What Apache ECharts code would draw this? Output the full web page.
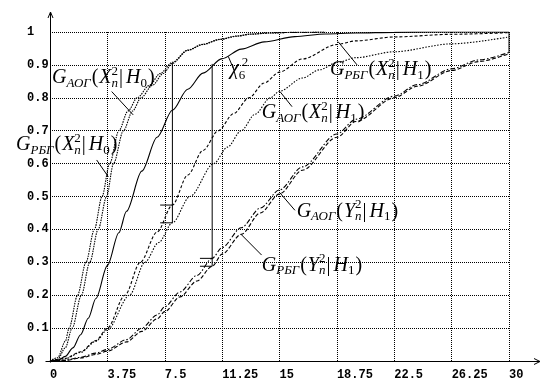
<!DOCTYPE html>
<html><head><meta charset="utf-8">
<script src="https://cdn.jsdelivr.net/npm/echarts@6/dist/echarts.min.js"></script>
<style>html,body{margin:0;padding:0;background:#fff}#c{width:546px;height:386px}</style>
</head><body><div id="c"></div>
<script>
// ---- tick labels ----
const xTickLabels = ['0','3.75','7.5','11.25','15','18.75','22.5','26.25','30'];
const yTickLabels = ['0','0.1','0.2','0.3','0.4','0.5','0.6','0.7','0.8','0.9','1'];

// ---- curves (x, F(x)) ----
const chi2_6 = [[0,0],[0.5,0.002],[1,0.014],[1.5,0.04],[2,0.08],[2.5,0.13],[3,0.19],[3.75,0.29],[4.5,0.39],[5,0.455],[6,0.577],[7,0.68],[8,0.762],[9,0.826],[10,0.875],[11.25,0.919],[12.5,0.948],[14,0.97],[16,0.986],[18,0.994],[20,0.997],[22.5,0.999],[25,1],[30,1]];
const gPBG_X_H0 = [[0,0],[0.5,0.01],[1,0.06],[1.25,0.1],[1.8,0.2],[2.35,0.3],[2.9,0.4],[3.4,0.5],[3.9,0.6],[4.5,0.7],[5.1,0.76],[5.7,0.8],[6.5,0.838],[7.2,0.874],[8,0.908],[9,0.945],[10,0.963],[11.1,0.978],[12.2,0.988],[13.1,0.994],[14.4,0.997],[16,0.999],[18,1]];
const gAOG_X_H0 = [[0,0],[0.5,0.005],[1,0.04],[1.45,0.1],[2.05,0.2],[2.6,0.3],[3.15,0.4],[3.7,0.5],[4.15,0.6],[4.8,0.7],[5.4,0.76],[5.95,0.8],[6.7,0.838],[7.4,0.874],[8,0.905],[9,0.944],[10,0.962],[11.1,0.977],[12.2,0.987],[13.1,0.993],[14.4,0.997],[16,0.999],[18,1]];
const gPBG_X_H1 = [[0,0],[1,0.008],[2,0.028],[3,0.062],[3.75,0.1],[4.9,0.2],[5.9,0.3],[7,0.392],[8,0.474],[9,0.565],[10,0.64],[11,0.7],[12,0.752],[13,0.8],[14,0.845],[15,0.878],[16.5,0.918],[18.75,0.962],[20,0.973],[22.5,0.985],[26.25,0.993],[30,0.998]];
const gAOG_X_H1 = [[0,0],[1,0.007],[2,0.026],[3,0.06],[3.75,0.095],[5.2,0.2],[6.2,0.3],[7.1,0.36],[8,0.42],[9.15,0.5],[10.7,0.6],[11.6,0.65],[12.5,0.7],[13.4,0.75],[14.4,0.8],[15,0.82],[16.5,0.86],[17.6,0.885],[18.75,0.907],[20,0.922],[22.5,0.94],[26.25,0.964],[30,0.985]];
const gAOG_Y_H1 = [[0,0],[1,0.003],[2,0.011],[3,0.024],[3.75,0.035],[5,0.065],[6,0.1],[7,0.14],[7.5,0.165],[8.5,0.21],[9.6,0.26],[10.6,0.312],[11.25,0.345],[12.5,0.405],[13.75,0.465],[15,0.52],[16.5,0.59],[18.75,0.69],[20,0.735],[22.5,0.805],[24,0.84],[26.25,0.888],[28,0.915],[30,0.938]];
const gPBG_Y_H1 = [[0,0],[1,0.002],[2,0.009],[3,0.02],[3.75,0.03],[5,0.058],[6,0.09],[7,0.128],[7.5,0.15],[8.5,0.195],[9.6,0.243],[10.6,0.288],[11.25,0.325],[12.5,0.385],[13.75,0.45],[15,0.508],[16.5,0.58],[18.75,0.68],[20,0.728],[22.5,0.8],[24,0.835],[26.25,0.883],[28,0.91],[30,0.934]];
const rightEdge = [[30,0.936],[30,1]];

// ---- critical value markers ----
const critLines = [
  [[8,0.907],[8,0.42]], [[7.2,0.474],[8,0.474]], [[7.2,0.42],[8,0.42]],
  [[10.6,0.903],[10.6,0.288]], [[9.8,0.312],[10.6,0.312]], [[9.8,0.288],[10.6,0.288]]
];
// ---- leader lines for labels ----
const leaders = [
  [[4.03,0.819],[5.44,0.748]],
  [[3.05,0.611],[3.81,0.560]],
  [[11.65,0.926],[11.98,0.890]],
  [[15.03,0.819],[15.82,0.773]],
  [[18.82,0.971],[20.07,0.900]],
  [[15.03,0.511],[16.01,0.458]],
  [[12.53,0.383],[13.83,0.322]]
];
// ---- labels (anchor: left edge, baseline) ----
const labelSubs  = ['АОГ','РБГ','АОГ','РБГ','АОГ','РБГ'];
const labelVars  = ['X','X','X','X','Y','Y'];
const labelHyp   = ['0','0','1','1','1','1'];
const labelAnchors = [[0.13,0.84],[-2.22,0.636],[13.84,0.733],[18.3,0.864],[16.12,0.434],[13.84,0.27]];
const chiAnchor = [11.76,0.867];

const chart = echarts.init(document.getElementById('c'), null, {renderer:'canvas'});
const blackLine = (data, type) => ({
  type:'line', data, showSymbol:false, symbol:'none', silent:true, animation:false,
  smooth:0.3, smoothMonotone:'x',
  lineStyle:{color:'#000', width:1.1, type}
});
const straight = (data) => ({
  type:'line', data, showSymbol:false, symbol:'none', silent:true, animation:false,
  lineStyle:{color:'#000', width:1, type:'solid'}
});
const series = [
  blackLine(chi2_6,'solid'),
  blackLine(gPBG_X_H0,[1.5,1]),
  blackLine(gAOG_X_H0,[1.5,1]),
  blackLine(gPBG_X_H1,[3,2]),
  blackLine(gAOG_X_H1,[1.5,1.5]),
  blackLine(gAOG_Y_H1,[5,2,1.5,2]),
  blackLine(gPBG_Y_H1,[4,2]),
  straight(rightEdge)
];
critLines.forEach(s=>series.push(straight(s)));
leaders.forEach(s=>series.push(straight(s)));

const tickFont = {fontFamily:'"Liberation Mono", monospace', fontWeight:'bold', fontSize:12, color:'#000'};
chart.setOption({
  animation:false,
  backgroundColor:'#fff',
  grid:{left:50, right:37, top:32, bottom:25, containLabel:false, outerBoundsMode:'none'},
  xAxis:{type:'value', min:0, max:30, interval:3.75,
    axisLine:{show:false}, axisTick:{show:false},
    splitLine:{show:true, lineStyle:{color:'#000', width:1, type:[1,1]}},
    axisLabel:Object.assign({formatter:v=>xTickLabels[Math.round(v/3.75)], align:'left', margin:8}, tickFont)},
  yAxis:{type:'value', min:0, max:1, interval:0.1,
    axisLine:{show:false}, axisTick:{show:false},
    splitLine:{show:true, lineStyle:{color:'#000', width:1, type:[1,1]}},
    axisLabel:Object.assign({formatter:v=>yTickLabels[Math.round(v*10)], align:'left', margin:23, verticalAlign:'middle', padding:[6,0,0,0]}, tickFont)},
  series
});

// ---- graphic: axes with arrows + math labels ----
const MAIN = 20, SUB = 13;
const fI = s => `italic ${s}px "Liberation Serif"`;
const fR = s => `${s}px "Liberation Serif"`;
const mctx = document.createElement('canvas').getContext('2d');
function tw(t, f){ mctx.font = f; return mctx.measureText(t).width; }
function textEl(x, baseY, t, f, size){
  return {type:'text', z:100, silent:true, style:{text:t, x:x, y:baseY - 0.3375*size, font:f, fill:'#000', align:'left', verticalAlign:'middle'}};
}
function sizeOf(f){ return parseFloat(f.match(/(\d+(\.\d+)?)px/)[1]); }
function buildParts(parts, px, py){
  const els = []; let x = px;
  for (const p of parts){
    if (p.stack){
      let w = 0;
      for (const q of p.stack){ els.push(textEl(x + (q.dx||0), py + q.dy, q.t, q.f, sizeOf(q.f))); w = Math.max(w, tw(q.t,q.f) + (q.dx||0)); }
      x += w + (p.gap||0);
    } else {
      els.push(textEl(x, py + p.dy, p.t, p.f, sizeOf(p.f)));
      x += tw(p.t, p.f) + (p.gap||0);
    }
  }
  return els;
}
function gParts(sub, v, h){
  return [
    {t:'G', f:fI(MAIN), dy:0},
    {t:sub, f:fI(SUB), dy:3, gap:1},
    {t:'(', f:fR(MAIN), dy:0, gap:1},
    {t:v, f:fI(MAIN), dy:0},
    {stack:[{t:'n', f:fI(SUB), dy:3},{t:'2', f:fR(SUB), dy:-9}], gap:1},
    {t:'|', f:fR(MAIN), dy:0, gap:3},
    {t:'H', f:fI(MAIN), dy:0},
    {t:h, f:fR(SUB), dy:3, gap:1},
    {t:')', f:fR(MAIN), dy:0}
  ];
}
const graphics = [];
labelAnchors.forEach((a,i)=>{
  const p = chart.convertToPixel({gridIndex:0}, a);
  graphics.push(...buildParts(gParts(labelSubs[i], labelVars[i], labelHyp[i]), p[0], p[1]));
});
{
  const p = chart.convertToPixel({gridIndex:0}, chiAnchor);
  graphics.push(...buildParts([
    {t:'χ', f:fI(MAIN), dy:0},
    {stack:[{t:'6', f:fR(SUB), dy:4},{t:'2', f:fR(SUB), dy:-9, dx:3}]}
  ], p[0], p[1]));
}
const o = chart.convertToPixel({gridIndex:0},[0,0]);
const tr = chart.convertToPixel({gridIndex:0},[30,1]);
const ox = Math.round(o[0]) + 0.5, oy = Math.round(o[1]) + 0.5;
const yTop = Math.round(tr[1]) - 20, xRight = Math.round(tr[0]) + 31;
const axStyle = {stroke:'#000', lineWidth:1, fill:null};
graphics.push(
  {type:'polyline', z:50, silent:true, shape:{points:[[ox, oy+1],[ox, yTop]]}, style:axStyle},
  {type:'polyline', z:50, silent:true, shape:{points:[[ox-2.5, yTop+6],[ox, yTop],[ox+2.5, yTop+6]]}, style:axStyle},
  {type:'polyline', z:50, silent:true, shape:{points:[[ox-5, oy],[xRight, oy]]}, style:axStyle},
  {type:'polyline', z:50, silent:true, shape:{points:[[xRight-6, oy-3],[xRight, oy],[xRight-6, oy+3]]}, style:axStyle}
);
chart.setOption({graphic: graphics});
</script></body></html>
